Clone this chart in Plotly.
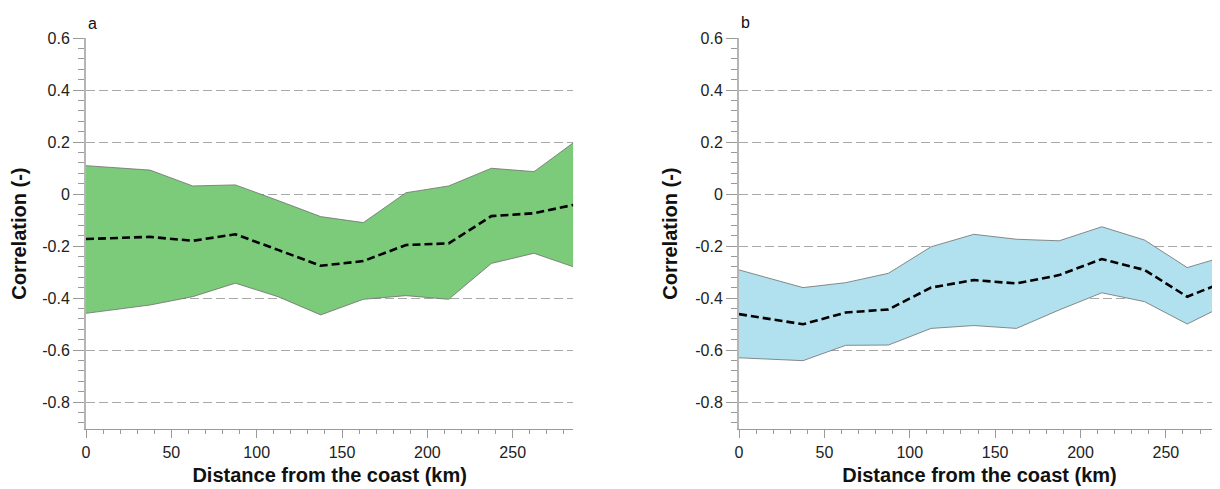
import plotly.graph_objects as go

# ---- data ----
distance_km = [0, 37.5, 62.5, 87.5, 112.5, 137.5, 162.5, 187.5, 212.5, 237.5, 262.5, 285.5]

upper_a = [0.109, 0.092, 0.031, 0.035, -0.025, -0.087, -0.110, 0.005, 0.031, 0.099, 0.086, 0.197]
median_a = [-0.173, -0.165, -0.180, -0.155, -0.215, -0.276, -0.258, -0.196, -0.190, -0.085, -0.074, -0.042]
lower_a = [-0.459, -0.427, -0.395, -0.343, -0.395, -0.465, -0.405, -0.391, -0.405, -0.267, -0.228, -0.280]

upper_b = [-0.292, -0.360, -0.341, -0.305, -0.203, -0.155, -0.174, -0.180, -0.126, -0.177, -0.283, -0.238]
median_b = [-0.462, -0.501, -0.456, -0.444, -0.360, -0.331, -0.344, -0.312, -0.250, -0.292, -0.395, -0.335]
lower_b = [-0.630, -0.641, -0.582, -0.581, -0.517, -0.506, -0.517, -0.446, -0.380, -0.414, -0.500, -0.425]

y_tickvals = [0.6, 0.4, 0.2, 0, -0.2, -0.4, -0.6, -0.8]
y_ticktext = ["0.6", "0.4", "0.2", "0", "-0.2", "-0.4", "-0.6", "-0.8"]
x_tickvals = [0, 50, 100, 150, 200, 250]
x_ticktext = ["0", "50", "100", "150", "200", "250"]

panel_labels = ["a", "b"]
x_title = "Distance from the coast (km)"
y_title = "Correlation (-)"

FONT = "Arial, Liberation Sans, sans-serif"
OFF = 8  # page body margin
W, H = 1220 - OFF, 489 - OFF


def px_x(p):
    return (p - OFF) / W


def px_y(p):
    return 1 - (p - OFF) / H


fig = go.Figure()

panels = [
    ("x", "y", upper_a, median_a, lower_a, "#7BCB7B"),
    ("x2", "y2", upper_b, median_b, lower_b, "#B1E1EE"),
]
for xa, ya, up, med, lo, col in panels:
    fig.add_trace(go.Scatter(x=distance_km, y=up, mode="lines", xaxis=xa, yaxis=ya,
                             line=dict(color="#6e6e6e", width=0.8), showlegend=False))
    fig.add_trace(go.Scatter(x=distance_km, y=lo, mode="lines", xaxis=xa, yaxis=ya,
                             fill="tonexty", fillcolor=col,
                             line=dict(color="#6e6e6e", width=0.8), showlegend=False))
    fig.add_trace(go.Scatter(x=distance_km, y=med, mode="lines", xaxis=xa, yaxis=ya,
                             line=dict(color="black", width=2.6, dash="8px,4px"),
                             showlegend=False))

yax = dict(
    range=[-0.905, 0.6], tickvals=y_tickvals, ticktext=y_ticktext, automargin=False,
    showgrid=True, gridcolor="#a8a8a8", griddash="9px,4px", gridwidth=1,
    zeroline=False, showline=True, linecolor="#b5b5b5", linewidth=2,
    ticks="outside", ticklen=11, tickcolor="#9a9a9a", tickwidth=1,
    minor=dict(dtick=0.04, tick0=0.6, ticks="outside", ticklen=6, tickcolor="#9a9a9a", showgrid=False),
    tickfont=dict(family=FONT, size=16, color="#222"),
    title=dict(text=y_title, font=dict(family=FONT, size=20, color="#111", weight="bold"), standoff=12),
    domain=[px_y(429.3), px_y(38)],
)
xax = dict(
    tickvals=x_tickvals, ticktext=x_ticktext, automargin=False,
    showgrid=False, zeroline=False, showline=True, linecolor="#9a9a9a", linewidth=1,
    ticks="outside", ticklen=8, tickcolor="#9a9a9a", tickwidth=1,
    minor=dict(dtick=10, tick0=0, ticks="outside", ticklen=4, tickcolor="#9a9a9a", showgrid=False),
    tickfont=dict(family=FONT, size=16, color="#222"),
    title=dict(text=x_title, font=dict(family=FONT, size=20, color="#111", weight="bold"), standoff=8),
)

fig.update_layout(
    width=W, height=H, autosize=False,
    margin=dict(l=0, r=0, t=0, b=0, autoexpand=False),
    paper_bgcolor="white", plot_bgcolor="white",
    xaxis=dict(xax, range=[0, 285.5], domain=[px_x(86), px_x(573.3)], anchor="y"),
    yaxis=dict(yax, anchor="x"),
    xaxis2=dict(xax, range=[0, 281.7], domain=[px_x(739), 1.0], anchor="y2"),
    yaxis2=dict(yax, anchor="x2"),
    annotations=[
        dict(text=panel_labels[0], x=px_x(86), y=px_y(23), xref="paper", yref="paper",
             xanchor="left", yanchor="middle", showarrow=False,
             font=dict(family=FONT, size=16, color="#111")),
        dict(text=panel_labels[1], x=px_x(739), y=px_y(22), xref="paper", yref="paper",
             xanchor="left", yanchor="middle", showarrow=False,
             font=dict(family=FONT, size=16, color="#111")),
    ],
)

fig.write_html("out.html")
